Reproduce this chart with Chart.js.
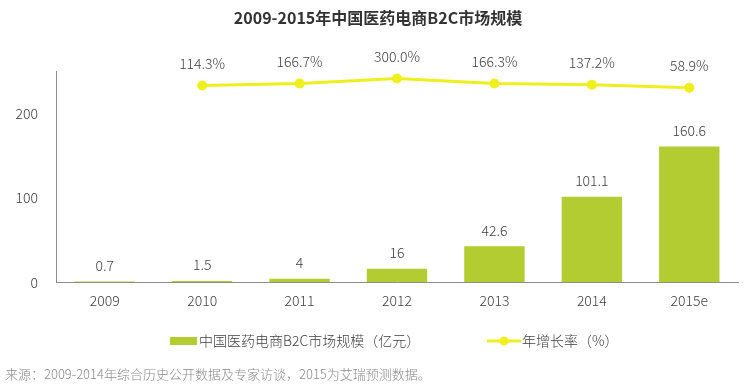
<!DOCTYPE html>
<html>
<head>
<meta charset="utf-8">
<script src="https://cdn.jsdelivr.net/npm/chart.js@4"></script>
<style>
html,body{margin:0;padding:0;background:#fff;}
#wrap{width:747px;height:391px;position:relative;}
</style>
</head>
<body>
<div id="wrap"><canvas id="c" width="747" height="391"></canvas></div>
<script>
const categories = ['2009','2010','2011','2012','2013','2014','2015e'];
const marketSize = [0.7, 1.5, 4, 16, 42.6, 101.1, 160.6];
const growthRate = [null, 114.3, 166.7, 300.0, 166.3, 137.2, 58.9];
const yTicks = [0, 100, 200];
const titleText = '2009-2015年中国医药电商B2C市场规模';
const legendBar = '中国医药电商B2C市场规模（亿元）';
const legendLine = '年增长率（%）';
const sourceText = '来源：2009-2014年综合历史公开数据及专家访谈，2015为艾瑞预测数据。';

const BAR = '#b3cc32';
const LINE = '#eef01e';
const TXT = '#404040';
const FONT = '"Noto Sans CJK SC", "Noto Sans", sans-serif';

const extras = {
  id: 'extras',
  afterDatasetsDraw(chart) {
    const ctx = chart.ctx;
    ctx.save();
    ctx.fillStyle = TXT;
    ctx.font = '300 14px ' + FONT;
    ctx.textAlign = 'center';
    ctx.textBaseline = 'middle';
    chart.getDatasetMeta(1).data.forEach((el, i) => {
      ctx.fillText(String(marketSize[i]), el.x, el.y - 16);
    });
    chart.getDatasetMeta(0).data.forEach((el, i) => {
      if (growthRate[i] == null) return;
      ctx.fillText(growthRate[i].toFixed(1) + '%', el.x, el.y - 22);
    });
    ctx.restore();
  },
  afterDraw(chart) {
    const ctx = chart.ctx;
    ctx.save();
    ctx.fillStyle = '#333333';
    ctx.font = 'bold 16px ' + FONT;
    ctx.textAlign = 'center';
    ctx.textBaseline = 'middle';
    ctx.fillText(titleText, 378, 18);
    ctx.fillStyle = BAR;
    ctx.fillRect(170, 337, 27, 8);
    ctx.fillStyle = TXT;
    ctx.font = '300 14px ' + FONT;
    ctx.textAlign = 'left';
    ctx.fillText(legendBar, 199, 341);
    ctx.strokeStyle = LINE;
    ctx.lineWidth = 3;
    ctx.beginPath();
    ctx.moveTo(487, 341);
    ctx.lineTo(521, 341);
    ctx.stroke();
    ctx.fillStyle = LINE;
    ctx.beginPath();
    ctx.arc(504, 341, 4.5, 0, Math.PI * 2);
    ctx.fill();
    ctx.fillStyle = TXT;
    ctx.fillText(legendLine, 522, 341);
    ctx.fillStyle = '#8a8a8a';
    ctx.font = '300 13px ' + FONT;
    ctx.fillText(sourceText, 5, 374);
    ctx.restore();
  }
};

new Chart(document.getElementById('c'), {
  data: {
    labels: categories,
    datasets: [
      {
        type: 'line',
        label: legendLine,
        data: growthRate,
        yAxisID: 'y2',
        borderColor: LINE,
        backgroundColor: LINE,
        borderWidth: 3,
        pointRadius: 5,
        pointBackgroundColor: LINE,
        pointBorderWidth: 0,
        tension: 0,
        order: 0
      },
      {
        type: 'bar',
        label: legendBar,
        data: marketSize,
        yAxisID: 'y',
        backgroundColor: BAR,
        categoryPercentage: 1,
        barPercentage: 0.62,
        order: 1
      }
    ]
  },
  options: {
    responsive: false,
    animation: false,
    layout: { padding: { left: 10, right: 9, top: 71, bottom: 72 } },
    plugins: { legend: { display: false }, title: { display: false }, tooltip: { enabled: false } },
    scales: {
      x: {
        grid: { display: false, drawTicks: false },
        border: { display: true, color: '#8c8c8c', width: 1 },
        ticks: { color: TXT, font: { family: FONT, size: 14, weight: 300 }, padding: 10 }
      },
      y: {
        position: 'left',
        min: 0,
        max: 250,
        afterBuildTicks(axis) { axis.ticks = yTicks.map(v => ({ value: v })); },
        afterFit(axis) { axis.width = 46; },
        grid: { display: false, drawTicks: false },
        border: { display: true, color: '#8c8c8c', width: 1 },
        ticks: { color: TXT, font: { family: FONT, size: 14, weight: 300 }, padding: 18 }
      },
      y2: {
        display: false,
        min: -5100,
        max: 500
      }
    }
  },
  plugins: [extras]
});
</script>
</body>
</html>
